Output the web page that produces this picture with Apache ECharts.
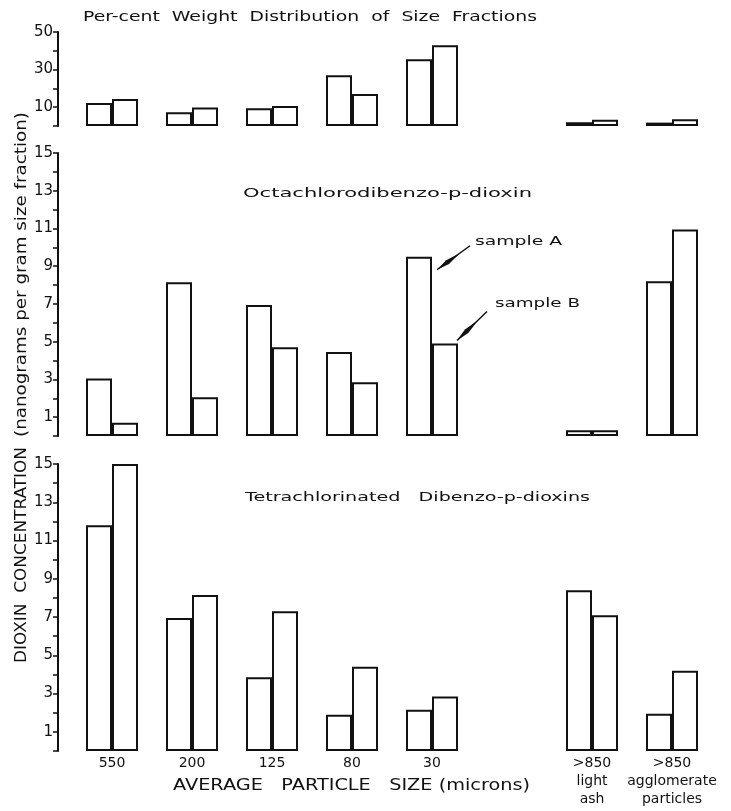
<!DOCTYPE html>
<html>
<head>
<meta charset="utf-8">
<script src="https://cdn.jsdelivr.net/npm/echarts@6/dist/echarts.min.js"></script>
<style>
html,body{margin:0;padding:0;background:#fff;}
#chart{width:731px;height:811px;}
</style>
</head>
<body>
<div id="chart"></div>
<script>
// ---- data ----
const categories = ['550', '200', '125', '80', '30', '', '>850\nlight\nash', '>850\nagglomerate\nparticles'];
// Per-cent weight distribution of size fractions
const weightA = [12.2, 7.3, 9.4, 27, 35.5, null, 2.0, 1.8];
const weightB = [14.4, 9.9, 10.6, 17, 43, null, 3.3, 3.6];
// Octachlorodibenzo-p-dioxin (ng per g size fraction)
const octaA = [3.05, 8.15, 6.95, 4.45, 9.5, null, 0.3, 8.2];
const octaB = [0.7, 2.05, 4.7, 2.85, 4.9, null, 0.3, 10.95];
// Tetrachlorinated dibenzo-p-dioxins
const tetraA = [11.8, 6.95, 3.85, 1.9, 2.15, null, 8.4, 1.95];
const tetraB = [15, 8.15, 7.3, 4.4, 2.85, null, 7.1, 4.2];
const weightTicks = [10, 30, 50];
const concTicks = [1, 3, 5, 7, 9, 11, 13, 15];

const FONT = '"DejaVu Sans", sans-serif';
const WEIGHT = 'normal';
const INK = '#111';

const grids = [
  {left: 72, right: 19, top: 32, height: 94},
  {left: 72, right: 19, top: 153, height: 283},
  {left: 72, right: 19, top: 464, height: 287}
];

function xAx(i) {
  return {
    type: 'category', gridIndex: i, data: categories,
    axisLine: {show: false}, axisTick: {show: false},
    axisLabel: {show: i === 2, color: INK, fontFamily: FONT, fontWeight: WEIGHT, fontSize: 14, lineHeight: 18, margin: 3, interval: 0}
  };
}
function yAx(i, max, interval, shown) {
  return {
    type: 'value', gridIndex: i, min: 0, max: max, interval: interval, offset: 14,
    axisLine: {show: true, lineStyle: {color: INK, width: 2}},
    axisTick: {show: true, length: 5, lineStyle: {color: INK, width: 1.5}},
    splitLine: {show: false},
    axisLabel: {color: INK, fontFamily: FONT, fontWeight: WEIGHT, fontSize: 15, margin: 5,
      formatter: v => shown.indexOf(v) >= 0 ? String(v) : ''}
  };
}
function barSeries(i, name, data) {
  return {
    type: 'bar', name: name, xAxisIndex: i, yAxisIndex: i, data: data,
    barCategoryGap: '35%', barGap: '0%', silent: true,
    itemStyle: {color: '#fff', borderColor: INK, borderWidth: 2}
  };
}

const option = {
  animation: false,
  backgroundColor: '#fff',
  grid: grids,
  xAxis: [xAx(0), xAx(1), xAx(2)],
  yAxis: [yAx(0, 50, 10, weightTicks), yAx(1, 15, 1, concTicks), yAx(2, 15, 1, concTicks)],
  series: [
    barSeries(0, 'sample A', weightA), barSeries(0, 'sample B', weightB),
    barSeries(1, 'sample A', octaA), barSeries(1, 'sample B', octaB),
    barSeries(2, 'sample A', tetraA), barSeries(2, 'sample B', tetraB)
  ]
};

const chart = echarts.init(document.getElementById('chart'), null, {renderer: 'canvas'});
chart.setOption(option);

// ---- annotations ----
const ctx = document.createElement('canvas').getContext('2d');
function measure(t, size) { ctx.font = WEIGHT + ' ' + size + 'px ' + FONT; return ctx.measureText(t).width; }
function fitText(text, left, right, cy, size, rot) {
  const w = measure(text, size);
  const el = {
    type: 'text', x: left, y: cy, scaleX: (right - left) / w,
    style: {text: text, x: 0, y: 0, fontSize: size, fontFamily: FONT, fontWeight: WEIGHT, fill: INK,
      textAlign: 'left', textVerticalAlign: 'middle', verticalAlign: 'middle'}
  };
  if (rot) { el.rotation = Math.PI / 2; }
  return el;
}
function arrow(x1, y1, x2, y2) {
  const dx = x2 - x1, dy = y2 - y1, L = Math.hypot(dx, dy);
  const nx = -dy / L, ny = dx / L;
  const at = t => [x1 + dx * t, y1 + dy * t];
  const a = at(0.3), m = at(0.68);
  return [
    {type: 'line', shape: {x1: x1, y1: y1, x2: x2, y2: y2}, style: {stroke: INK, lineWidth: 1.5}},
    {type: 'polygon', shape: {points: [a, [m[0] + nx * 2.4, m[1] + ny * 2.4], [x2, y2], [m[0] - nx * 2.4, m[1] - ny * 2.4]]},
      style: {fill: INK}}
  ];
}

const pA = chart.convertToPixel({xAxisIndex: 1, yAxisIndex: 1}, [4, octaA[4]]);
const pB = chart.convertToPixel({xAxisIndex: 1, yAxisIndex: 1}, [4, octaB[4]]);

const elements = [
  fitText('Per-cent  Weight  Distribution  of  Size  Fractions', 83, 537, 17, 14),
  fitText('Octachlorodibenzo-p-dioxin', 243, 532, 194, 13),
  fitText('Tetrachlorinated   Dibenzo-p-dioxins', 245, 590, 498, 13),
  fitText('AVERAGE   PARTICLE   SIZE (microns)', 173, 530, 786, 15),
  fitText('DIOXIN  CONCENTRATION', 22, 22, 0, 16, true),
  fitText('(nanograms per gram size fraction)', 22, 22, 0, 15, true),
  fitText('sample A', pA[0] + 43, pA[0] + 130, pA[1] - 15, 12),
  fitText('sample B', pB[0] + 63, pB[0] + 148, pB[1] - 40, 12)
].concat(arrow(pA[0] + 38, pA[1] - 11, pA[0] + 5, pA[1] + 13))
 .concat(arrow(pB[0] + 55, pB[1] - 32, pB[0] + 25, pB[1] - 3));

// vertical axis titles: position at bottom start, stretch along text direction
(function () {
  const v1 = elements[4], v2 = elements[5];
  v1.x = 22; v1.y = 663; v1.scaleX = 216 / measure('DIOXIN  CONCENTRATION', 16);
  v2.x = 22; v2.y = 437; v2.scaleX = 325 / measure('(nanograms per gram size fraction)', 15);
})();

chart.setOption({graphic: {elements: elements}});
</script>
</body>
</html>
